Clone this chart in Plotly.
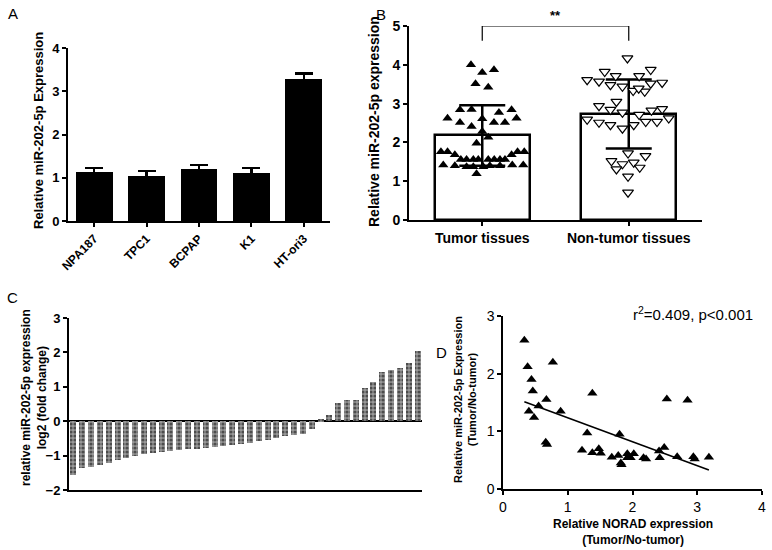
import plotly.graph_objects as go

# ---------------- data ----------------
# Panel A
cell_lines = ["NPA187", "TPC1", "BCPAP", "K1", "HT-ori3"]
cell_expr = [1.13, 1.04, 1.20, 1.11, 3.28]
cell_sd = [0.10, 0.12, 0.10, 0.11, 0.13]

# Panel B
groups = ["Tumor tissues", "Non-tumor tissues"]
group_mean = [2.18, 2.73]
group_sd = [0.78, 0.89]
tumor_vals = [4.00, 3.80, 3.87, 3.51, 3.42, 2.62, 2.84, 2.85, 2.77, 2.84, 2.62,
              2.51, 2.41, 2.61, 2.51, 2.51, 2.28, 2.13, 1.98, 1.76, 1.76, 1.68,
              1.56, 1.56, 1.56, 1.56, 1.56, 1.56, 1.56, 1.56, 1.68, 1.76, 1.76,
              1.42, 1.40, 1.37, 1.37, 1.37, 1.40, 1.40, 1.42, 1.42, 1.19]
tumor_jitter = [-0.077, 0.0, 0.080, -0.046, 0.041, -0.237, -0.152, -0.073, 0.114, 0.200, 0.234,
                -0.152, -0.073, 0.0, 0.080, 0.155, 0.0, 0.041, -0.039, -0.282, -0.237, -0.187,
                -0.146, -0.107, -0.061, -0.027, 0.041, 0.082, 0.121, 0.155, 0.200, 0.241, 0.287,
                -0.266, -0.187, -0.107, -0.061, 0.007, 0.052, 0.121, 0.205, 0.280, -0.039]
normal_vals = [4.17, 3.82, 3.87, 3.61, 3.57, 3.71, 3.71, 3.54, 3.48, 3.44, 3.33, 3.31, 3.52,
               3.39, 3.05, 2.94, 2.84, 2.77, 2.71, 2.82, 2.86, 2.59, 2.51, 2.45, 2.36, 2.45,
               2.53, 2.53, 2.62, 1.72, 1.65, 1.52, 1.44, 1.48, 1.31, 1.35, 1.12, 0.71]
normal_jitter = [-0.009, -0.164, 0.150, -0.284, -0.203, -0.089, 0.071, 0.228, -0.125, -0.043,
                 0.030, 0.109, 0.150, 0.068, -0.084, -0.203, -0.125, -0.043, 0.071, 0.155,
                 0.228, -0.284, -0.203, -0.125, -0.043, 0.034, 0.116, 0.193, 0.273, -0.005,
                 0.114, -0.118, -0.043, 0.034, -0.084, 0.075, -0.005, -0.005]
sig_level = 5.0
sig_drop = 0.38

# Panel C
fold_change = [-1.55, -1.35, -1.32, -1.26, -1.22, -1.13, -1.08, -1.00, -0.96, -0.93,
               -0.90, -0.87, -0.85, -0.82, -0.80, -0.78, -0.75, -0.72, -0.68, -0.65,
               -0.62, -0.58, -0.55, -0.50, -0.42, -0.40, -0.36, -0.22,
               0.05, 0.18, 0.52, 0.63, 0.63, 0.97, 1.13, 1.42, 1.48, 1.55, 1.68, 2.03]

# Panel D
norad = [0.33, 0.38, 0.44, 0.46, 0.40, 0.48, 0.55, 0.67, 0.77, 0.66, 0.68, 0.89, 1.38,
         1.30, 1.22, 1.38, 1.48, 1.51, 1.68, 1.78, 1.80, 1.82, 1.83, 1.92, 1.95, 1.92,
         1.97, 2.02, 2.17, 2.21, 2.41, 2.42, 2.49, 2.69, 2.53, 2.85, 2.94, 2.96, 3.18]
mir = [2.58, 2.12, 1.90, 1.70, 1.35, 1.24, 1.44, 1.55, 2.20, 0.81, 0.77, 1.35, 1.66,
       0.97, 0.67, 0.63, 0.70, 0.62, 0.55, 0.58, 0.95, 0.45, 0.42, 0.61, 0.56, 0.54,
       0.54, 0.61, 0.54, 0.52, 0.66, 0.54, 0.72, 0.56, 1.56, 1.54, 0.56, 0.52, 0.55]
fit_slope = -0.415
fit_intercept = 1.65
fit_x = [0.33, 3.18]

FONT = "Liberation Sans, Arial, sans-serif"
W, H = 772, 550


def px_x(p):
    return p / W


def px_y(p):
    return 1 - p / H


axis_common = dict(showline=True, linecolor="black", linewidth=2, ticks="outside",
                   ticklen=4, tickwidth=2, tickcolor="black", showgrid=False,
                   zeroline=False, mirror=False, automargin=False)

fig = go.Figure()

# ---- A ----
fig.add_trace(go.Bar(x=list(range(len(cell_lines))), y=cell_expr, width=0.7,
                     marker=dict(color="black", line=dict(width=0)),
                     error_y=dict(type="data", array=cell_sd, color="black", thickness=2.5, width=9),
                     xaxis="x", yaxis="y", showlegend=False))

# ---- B ----
fig.add_trace(go.Bar(x=[0, 1], y=group_mean, width=0.65,
                     marker=dict(color="white", line=dict(color="black", width=2.5)),
                     error_y=dict(type="data", array=group_sd, color="black", thickness=2.5, width=23),
                     xaxis="x2", yaxis="y2", showlegend=False))
fig.add_trace(go.Scatter(x=[0 + j for j in tumor_jitter], y=tumor_vals, mode="markers",
                         marker=dict(symbol="triangle-up", size=9, color="black"),
                         xaxis="x2", yaxis="y2", showlegend=False))
fig.add_trace(go.Scatter(x=[1 + j for j in normal_jitter], y=normal_vals, mode="markers",
                         marker=dict(symbol="triangle-down", size=9.5, color="white",
                                     line=dict(color="black", width=1.2)),
                         xaxis="x2", yaxis="y2", showlegend=False))
fig.add_trace(go.Scatter(x=[0, 0, 1, 1],
                         y=[sig_level - sig_drop, sig_level, sig_level, sig_level - sig_drop],
                         mode="lines", line=dict(color="black", width=1.2), cliponaxis=False,
                         xaxis="x2", yaxis="y2", showlegend=False))

# ---- C ----
fig.add_trace(go.Bar(x=list(range(len(fold_change))), y=fold_change, width=0.68,
                     marker=dict(color="#8c8c8c", line=dict(width=0),
                                 pattern=dict(shape=".", fgcolor="black", bgcolor="#9a9a9a",
                                              size=4, solidity=0.5)),
                     xaxis="x3", yaxis="y3", showlegend=False))

# ---- D ----
fig.add_trace(go.Scatter(x=norad, y=mir, mode="markers",
                         marker=dict(symbol="triangle-up", size=9, color="black"),
                         xaxis="x4", yaxis="y4", showlegend=False))
fig.add_trace(go.Scatter(x=fit_x, y=[fit_intercept + fit_slope * v for v in fit_x],
                         mode="lines", line=dict(color="black", width=1.6),
                         xaxis="x4", yaxis="y4", showlegend=False))

bold13 = dict(family=FONT, size=13, color="black", weight="bold")

fig.update_layout(
    width=W, height=H, margin=dict(l=0, r=0, t=0, b=0, autoexpand=False),
    paper_bgcolor="white", plot_bgcolor="white", font=dict(family=FONT, color="black"),
    bargap=0, hovermode=False,
    xaxis=dict(axis_common, domain=[px_x(68), px_x(330)], range=[-0.5, 4.5], anchor="y",
               tickvals=list(range(len(cell_lines))), ticktext=cell_lines, tickangle=-45,
               tickfont=dict(family=FONT, size=12, color="black", weight="bold")),
    yaxis=dict(axis_common, domain=[px_y(221), px_y(48)], range=[0, 4], dtick=1, anchor="x",
               tickfont=bold13),
    xaxis2=dict(axis_common, domain=[px_x(409), px_x(702)], range=[-0.5, 1.5], anchor="y2",
                tickvals=[0, 1], ticktext=groups,
                tickfont=dict(family=FONT, size=14, color="black", weight="bold")),
    yaxis2=dict(axis_common, domain=[px_y(220), px_y(26)], range=[0, 5], dtick=1, anchor="x2",
                tickfont=dict(family=FONT, size=14, color="black", weight="bold")),
    xaxis3=dict(axis_common, domain=[px_x(69), px_x(422)], range=[-0.5, len(fold_change) - 0.5],
                anchor="y3", showticklabels=False, ticks=""),
    yaxis3=dict(axis_common, domain=[px_y(490), px_y(318)], range=[-2, 3], dtick=1, anchor="x3",
                zeroline=True, zerolinecolor="black", zerolinewidth=2,
                tickfont=dict(family=FONT, size=13, color="black", weight="bold")),
    xaxis4=dict(axis_common, domain=[px_x(503), px_x(762)], range=[0, 4], dtick=1, anchor="y4",
                linewidth=1.5, tickwidth=1.5,
                tickfont=dict(family=FONT, size=14, color="black")),
    yaxis4=dict(axis_common, domain=[px_y(489), px_y(316)], range=[0, 3], dtick=1, anchor="x4",
                linewidth=1.5, tickwidth=1.5,
                tickfont=dict(family=FONT, size=14, color="black")),
)

ann = []


def add_text(text, x, y, size, angle=0):
    ann.append(dict(text=text, x=px_x(x), y=px_y(y), xref="paper", yref="paper",
                    xanchor="center", yanchor="middle", textangle=angle, showarrow=False,
                    font=dict(family=FONT, size=size, color="black")))


# panel letters
for letter, x, y in [("A", 13, 13), ("B", 381, 14), ("C", 12, 297), ("D", 441, 352)]:
    add_text(letter, x, y, 15)
# axis titles
add_text("<b>Relative miR-202-5p Expression</b>", 38, 131, 13, -90)
add_text("<b>Relative miR-202-5p expression</b>", 374, 122, 14, -90)
add_text("<b>relative miR-202-5p expression<br>log2 (fold change)</b>", 34, 398, 12, -90)
add_text("<b>Relative miR-202-5p Expression<br>(Tumor/No-tumor)</b>", 465, 400, 11, -90)
add_text("<b>Relative NORAD expression<br>(Tumor/No-tumor)</b>", 633, 532, 12)
# correlation stats
add_text("r<sup>2</sup>=0.409, p&lt;0.001", 693, 313, 15)
# significance stars
ann.append(dict(text="<b>**</b>", x=0.5, y=sig_level, xref="x2", yref="y2", yshift=10,
                xanchor="center", yanchor="middle", showarrow=False,
                font=dict(family=FONT, size=13, color="black")))
fig.update_layout(annotations=ann)

# remove the browser's default 8px page margin so the figure fills the window
fig.write_html("out.html", config={"displayModeBar": False},
               post_script="document.body.style.margin='0';")
